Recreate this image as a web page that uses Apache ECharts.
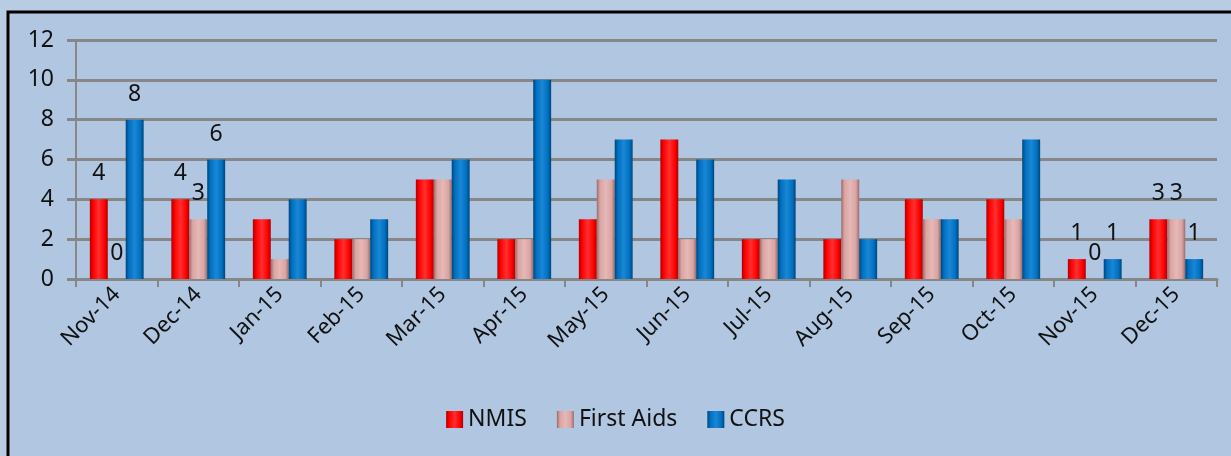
<!DOCTYPE html>
<html lang="en">

<head>
  <meta charset="UTF-8" />
  <title>NMIS / First Aids / CCRS</title>
  <style>
    html, body { margin: 0; padding: 0; background: #b8cce4; }
  </style>
</head>

<body>
  <div id="main" style="width: 1231px; height: 456px;"></div>
  <script src="https://cdn.jsdelivr.net/npm/echarts@6/dist/echarts.min.js"></script>
  <script type="text/javascript">
    const months = ['Nov-14', 'Dec-14', 'Jan-15', 'Feb-15', 'Mar-15', 'Apr-15', 'May-15',
      'Jun-15', 'Jul-15', 'Aug-15', 'Sep-15', 'Oct-15', 'Nov-15', 'Dec-15']
    const nmis = [4, 4, 3, 2, 5, 2, 3, 7, 2, 2, 4, 4, 1, 3]
    const firstAids = [0, 3, 1, 2, 5, 2, 5, 2, 2, 5, 3, 3, 0, 3]
    const ccrs = [8, 6, 4, 3, 6, 10, 7, 6, 5, 2, 3, 7, 1, 1]
    // only these months carry value labels in the original
    const labelled = ['Nov-14', 'Dec-14', 'Nov-15', 'Dec-15']

    let myChart = echarts.init(document.getElementById('main'))

    function cylinder(dark, main, light) {
      return new echarts.graphic.LinearGradient(0, 0, 1, 0, [
        { offset: 0, color: dark },
        { offset: 0.18, color: main },
        { offset: 0.5, color: light },
        { offset: 0.82, color: main },
        { offset: 1, color: dark }
      ])
    }

    function withLabels(values) {
      return values.map((v, i) => ({
        value: v,
        label: { show: labelled.includes(months[i]) }
      }))
    }

    function makeSeries(name, values, colors) {
      return {
        name,
        type: 'bar',
        barGap: '0%',
        barCategoryGap: '34%',
        data: withLabels(values),
        itemStyle: { color: cylinder(colors[0], colors[1], colors[2]) },
        label: {
          position: 'top',
          distance: 14,
          color: '#111',
          fontSize: 23,
          fontFamily: 'Noto Sans'
        }
      }
    }

    let option = {
      backgroundColor: '#b8cce4',
      animation: false,
      textStyle: { fontFamily: 'Noto Sans' },
      graphic: [{
        type: 'rect',
        shape: { x: 8, y: 12, width: 1400, height: 600 },
        style: { fill: '#b0c6e1', stroke: '#000', lineWidth: 3 },
        z: -10
      }],
      grid: { left: 76, right: 14, top: 40, bottom: 177 },
      legend: {
        bottom: 20,
        left: 'center',
        itemWidth: 17,
        itemHeight: 17,
        itemGap: 30,
        icon: 'rect',
        textStyle: { fontSize: 23, color: '#111', fontFamily: 'Noto Sans' },
        data: ['NMIS', 'First Aids', 'CCRS']
      },
      xAxis: {
        type: 'category',
        data: months,
        axisLine: { lineStyle: { color: '#878787', width: 3 } },
        axisTick: { show: true, length: 8, lineStyle: { color: '#878787', width: 2 } },
        axisLabel: { rotate: 45, fontSize: 22, color: '#111', margin: 12, fontFamily: 'Noto Sans' }
      },
      yAxis: {
        type: 'value',
        min: 0,
        max: 12,
        interval: 2,
        axisLine: { show: true, lineStyle: { color: '#878787', width: 2 } },
        axisTick: { show: true, length: 9, lineStyle: { color: '#878787', width: 3 } },
        axisLabel: { fontSize: 23, color: '#111', margin: 22, fontFamily: 'Noto Sans' },
        splitLine: { lineStyle: { color: '#878787', width: 3 } }
      },
      series: [
        makeSeries('NMIS', nmis, ['#b00000', '#ff0000', '#ff3030']),
        makeSeries('First Aids', firstAids, ['#9a6b69', '#d9a4a2', '#e6b8b6']),
        makeSeries('CCRS', ccrs, ['#00457a', '#0070c0', '#1a86d6'])
      ]
    }

    myChart.setOption(option)
  </script>
</body>

</html>
